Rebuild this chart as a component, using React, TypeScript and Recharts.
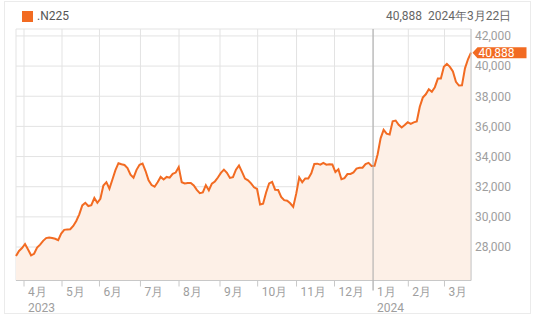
import { Area, CartesianGrid, ComposedChart, ReferenceDot, ReferenceLine, XAxis, YAxis } from "recharts";

// .N225 close, sampled evenly from late Mar 2023 to 22 Mar 2024
const closes = [
  27400, 27740, 27930, 28200, 27830, 27450, 27550, 27960, 28160, 28410,
  28590, 28630, 28600, 28550, 28460, 28890, 29140, 29170, 29180, 29400,
  29730, 30170, 30760, 30930, 30720, 30780, 31250, 30930, 31200, 32080,
  32300, 31870, 32480, 33100, 33560, 33490, 33440, 33240, 32800, 32600,
  33120, 33450, 33540, 33040, 32430, 32110, 32000, 32300, 32650, 32480,
  32650, 32600, 32850, 32940, 33300, 32300, 32220, 32250, 32250, 32080,
  31790, 31570, 31620, 32100, 31760, 32200, 32350, 32610, 32920, 33130,
  32920, 32580, 32630, 33130, 33410, 32980, 32540, 32420, 32220, 31960,
  31850, 30820, 30870, 31620, 32220, 32320, 31800, 31780, 31320, 31110,
  31070, 30900, 30660, 31540, 32620, 32300, 32550, 32550, 32890, 33510,
  33530, 33460, 33580, 33460, 33490, 33470, 32970, 33150, 32500, 32570,
  32840, 32850, 32950, 33200, 33250, 33260, 33500, 33580, 33380, 33390,
  34140, 35210, 35770, 35520, 35460, 36340, 36390, 36110, 35930, 36090,
  36280, 36170, 36270, 36330, 37300, 37910, 38130, 38460, 38300, 38600,
  39170, 39170, 39950, 40150, 39950, 39650, 38960, 38710, 38720, 39850,
  40450, 40888,
];

// first trading day of each month, in sample units
const monthStarts = [2.66, 15.27, 27.7, 41.3, 54.1, 67.7, 80.2, 93.1, 105.7, 118.5, 130.2, 142.2];
const monthLabels = ["4月", "5月", "6月", "7月", "8月", "9月", "10月", "11月", "12月", "1月", "2月", "3月"];
const yearLabels = ["2023", "", "", "", "", "", "", "", "", "2024", "", ""];
const priceTicks = [28000, 30000, 32000, 34000, 36000, 38000, 40000, 42000];

const lastClose = 40888;
const lastDate = "2024年3月22日";

const data = closes.map((v, i) => ({ i, v }));
const xDomain = [0, closes.length - 1];
const yDomain = [25780, 42460];
const font = "Roboto, Arial, sans-serif";

function MonthTick(props: any) {
  const { x, y, index } = props;
  const isYearStart = yearLabels[index] !== "" && index > 0;
  return (
    <g>
      <line x1={x} y1={y} x2={x} y2={y + (isYearStart ? 10 : 6)} stroke={isYearStart ? "#9a9a9a" : "#c8c8c8"} />
      <text x={x + 4} y={y + 15.5} fontSize={12} fontFamily={font} fill="#9e9e9e">
        {monthLabels[index]}
      </text>
      {yearLabels[index] && (
        <text x={x + 4} y={y + 31} fontSize={12} fontFamily={font} fill="#9e9e9e">
          {yearLabels[index]}
        </text>
      )}
    </g>
  );
}

function PriceTag(props: any) {
  const { cx, cy } = props;
  const l = cx + 1.5;
  return (
    <g>
      <polygon
        points={`${l},${cy} ${l + 5},${cy - 5.5} ${l + 54},${cy - 5.5} ${l + 54},${cy + 5.5} ${l + 5},${cy + 5.5}`}
        fill="#f26b22"
      />
      <text x={l + 6} y={cy + 4.5} fontSize={12} fontFamily={font} fill="#fff">
        {lastClose.toLocaleString("en-US")}
      </text>
    </g>
  );
}

export default function App() {
  return (
    <div style={{ position: "absolute", left: 0, top: 0, width: 539, height: 317, background: "#fff", fontFamily: font }}>
      <div style={{ position: "absolute", left: 4, top: 1, width: 527, height: 313, border: "1px solid #ebebeb", boxSizing: "border-box" }} />
      <div style={{ position: "absolute", left: 22, top: 11, width: 11, height: 11, background: "#f26b22" }} />
      <div style={{ position: "absolute", left: 37, top: 8, fontSize: 12, color: "#555", lineHeight: "16px" }}>.N225</div>
      <div style={{ position: "absolute", left: 386, top: 8, fontSize: 12, color: "#666", lineHeight: "16px" }}>
        {lastClose.toLocaleString("en-US")}
      </div>
      <div style={{ position: "absolute", left: 428, top: 8, fontSize: 12, color: "#666", lineHeight: "16px" }}>{lastDate}</div>
      <div style={{ position: "absolute", left: 0, top: 0 }}>
        <ComposedChart width={539} height={317} data={data} margin={{ top: 29, right: 0, bottom: 0, left: 16 }}>
          <CartesianGrid stroke="#e3e3e3" />
          <XAxis
            dataKey="i"
            type="number"
            domain={xDomain}
            ticks={monthStarts}
            interval={0}
            height={36.5}
            tickSize={0}
            tickMargin={0}
            tick={<MonthTick />}
            axisLine={{ stroke: "#c8c8c8" }}
          />
          <XAxis xAxisId="top" orientation="top" dataKey="i" type="number" domain={xDomain} height={0} tick={false} axisLine={{ stroke: "#e3e3e3" }} />
          <YAxis
            orientation="right"
            type="number"
            domain={yDomain}
            ticks={priceTicks}
            width={68}
            tickSize={0}
            tickMargin={4}
            tickLine={false}
            axisLine={{ stroke: "#c8c8c8" }}
            tick={{ fontSize: 12, fontFamily: font, fill: "#9e9e9e" }}
            tickFormatter={(v: number) => v.toLocaleString("en-US")}
          />
          <YAxis yAxisId="left" orientation="left" type="number" domain={yDomain} width={0} tick={false} axisLine={{ stroke: "#e3e3e3" }} />
          <ReferenceLine x={monthStarts[9]} stroke="#a8a8a8" />
          <Area
            type="linear"
            dataKey="v"
            stroke="#f26b22"
            strokeWidth={2}
            fill="#fdf0e7"
            fillOpacity={1}
            isAnimationActive={false}
            dot={false}
            activeDot={false}
          />
          <ReferenceDot x={xDomain[1]} y={lastClose} shape={<PriceTag />} />
        </ComposedChart>
      </div>
    </div>
  );
}
